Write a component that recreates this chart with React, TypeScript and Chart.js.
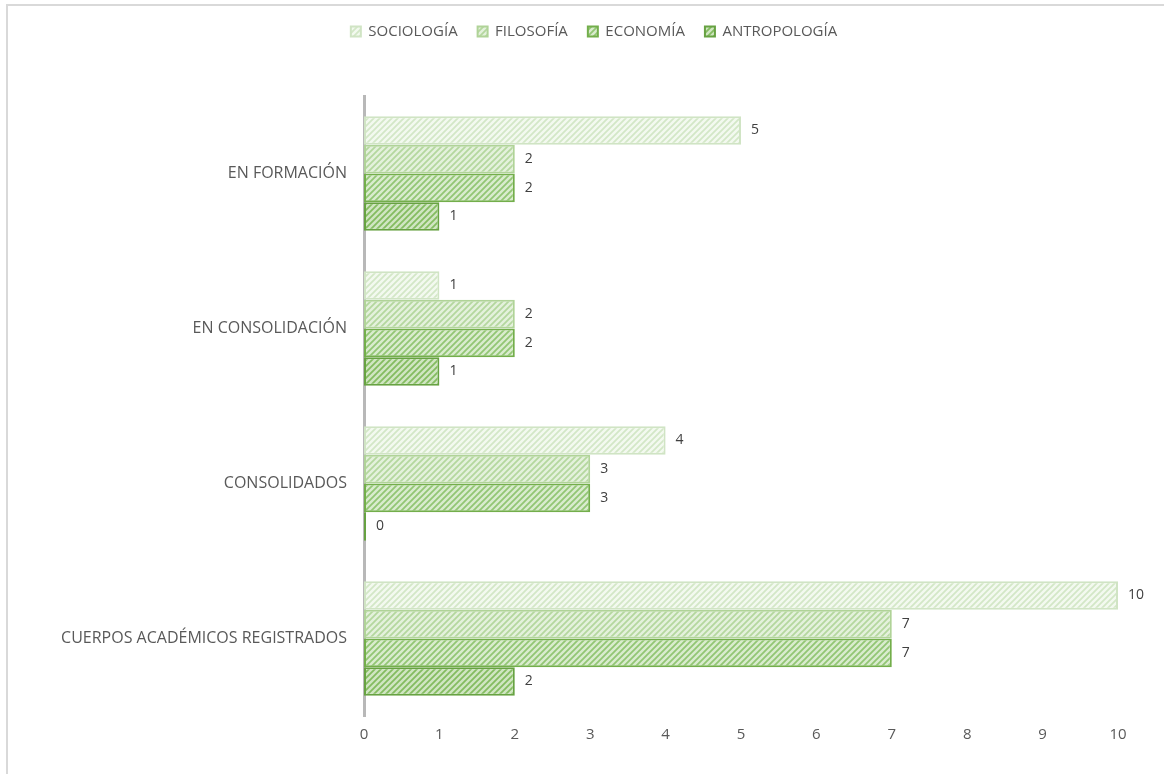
import { useEffect, useRef } from "react";
import { Chart, registerables } from "chart.js";
Chart.register(...registerables);

const categories = ["EN FORMACIÓN", "EN CONSOLIDACIÓN", "CONSOLIDADOS", "CUERPOS ACADÉMICOS REGISTRADOS"];
const seriesNames = ["SOCIOLOGÍA", "FILOSOFÍA", "ECONOMÍA", "ANTROPOLOGÍA"];
const sociologia = [5, 1, 4, 10];
const filosofia = [2, 2, 3, 7];
const economia = [2, 2, 3, 7];
const antropologia = [1, 1, 0, 2];
const xTicks = [0, 1, 2, 3, 4, 5, 6, 7, 8, 9, 10];

const seriesValues = [sociologia, filosofia, economia, antropologia];
const bgColors = ["#f3f9f0", "#e4f1dc", "#d9ecce", "#d0e6c2"];
const stripeColors = ["#d3e7c7", "#b4d79e", "#92c674", "#84bc60"];
const borderColors = ["#d0e4c4", "#b0d398", "#73ae4b", "#67a242"];

function makePattern(bg: string, stripe: string): CanvasPattern | string {
  const c = document.createElement("canvas");
  c.width = 6;
  c.height = 6;
  const ctx = c.getContext("2d");
  if (!ctx) return bg;
  ctx.fillStyle = bg;
  ctx.fillRect(0, 0, 6, 6);
  ctx.strokeStyle = stripe;
  ctx.lineWidth = 1.8;
  ctx.beginPath();
  ctx.moveTo(-1, 7);
  ctx.lineTo(7, -1);
  ctx.moveTo(-4, 4);
  ctx.lineTo(4, -4);
  ctx.moveTo(2, 10);
  ctx.lineTo(10, 2);
  ctx.stroke();
  const p = ctx.createPattern(c, "repeat");
  return p || bg;
}

const FONT = "'Open Sans', 'DejaVu Sans', sans-serif";

export default function App() {
  const ref = useRef<HTMLCanvasElement | null>(null);
  useEffect(() => {
    if (!ref.current) return;
    const frame = {
      id: "frame",
      beforeInit(chart: any) {
        const legend = chart.legend;
        if (legend && !legend.__patched) {
          const orig = legend.fit;
          legend.fit = function () {
            orig.call(this);
            this.height += 47;
          };
          legend.__patched = true;
        }
      },
      afterLayout(chart: any) {
        const legend = chart.legend;
        if (legend) {
          legend.left += 35;
          legend.right += 35;
        }
      },
      beforeDraw(chart: any) {
        const ctx = chart.ctx;
        ctx.save();
        ctx.strokeStyle = "#d9d9d9";
        ctx.lineWidth = 2;
        ctx.strokeRect(7, 5, 1170, 780);
        ctx.restore();
      },
    };
    const labels = {
      id: "valueLabels",
      afterDatasetsDraw(chart: any) {
        const ctx = chart.ctx;
        ctx.save();
        ctx.fillStyle = "#404040";
        ctx.font = `14px ${FONT}`;
        ctx.textBaseline = "middle";
        ctx.textAlign = "left";
        chart.data.datasets.forEach((ds: any, i: number) => {
          const meta = chart.getDatasetMeta(i);
          meta.data.forEach((bar: any, j: number) => {
            ctx.fillText(String(ds.data[j]), bar.x + 10, bar.y);
          });
        });
        ctx.restore();
      },
    };
    const chart = new Chart(ref.current, {
      type: "bar",
      data: {
        labels: categories,
        datasets: seriesNames.map((name, i) => ({
          label: name,
          data: seriesValues[i],
          backgroundColor: makePattern(bgColors[i], stripeColors[i]) as any,
          borderColor: borderColors[i],
          borderWidth: 2,
          borderSkipped: false,
          categoryPercentage: 0.74,
          barPercentage: 1,
          minBarLength: 2,
        })),
      },
      options: {
        indexAxis: "y",
        animation: false,
        responsive: false,
        maintainAspectRatio: false,
        layout: { padding: { top: 4, right: 46, bottom: 28, left: 0 } },
        plugins: {
          legend: {
            position: "top",
            labels: {
              font: { family: FONT, size: 15 },
              color: "#595959",
              boxWidth: 10,
              boxHeight: 10,
              padding: 20,
            },
          },
          tooltip: { enabled: false },
        },
        scales: {
          x: {
            min: 0,
            max: 10,
            afterBuildTicks(scale: any) {
              scale.ticks = xTicks.map((v) => ({ value: v }));
            },
            grid: { display: false },
            border: { display: false },
            ticks: { color: "#595959", font: { family: FONT, size: 15 }, padding: 2 },
          },
          y: {
            afterFit(scale: any) {
              scale.width = 364;
            },
            grid: { display: false, drawTicks: false },
            border: { display: true, color: "#b8b8b8", width: 3 },
            ticks: { color: "#595959", font: { family: FONT, size: 16 }, padding: 17 },
          },
        },
      },
      plugins: [frame, labels],
    } as any);
    return () => chart.destroy();
  }, []);
  return (
    <div style={{ position: "fixed", left: 0, top: 0, width: 1164, height: 774, background: "#fff" }}>
      <canvas ref={ref} width={1164} height={774} style={{ display: "block" }} />
    </div>
  );
}
